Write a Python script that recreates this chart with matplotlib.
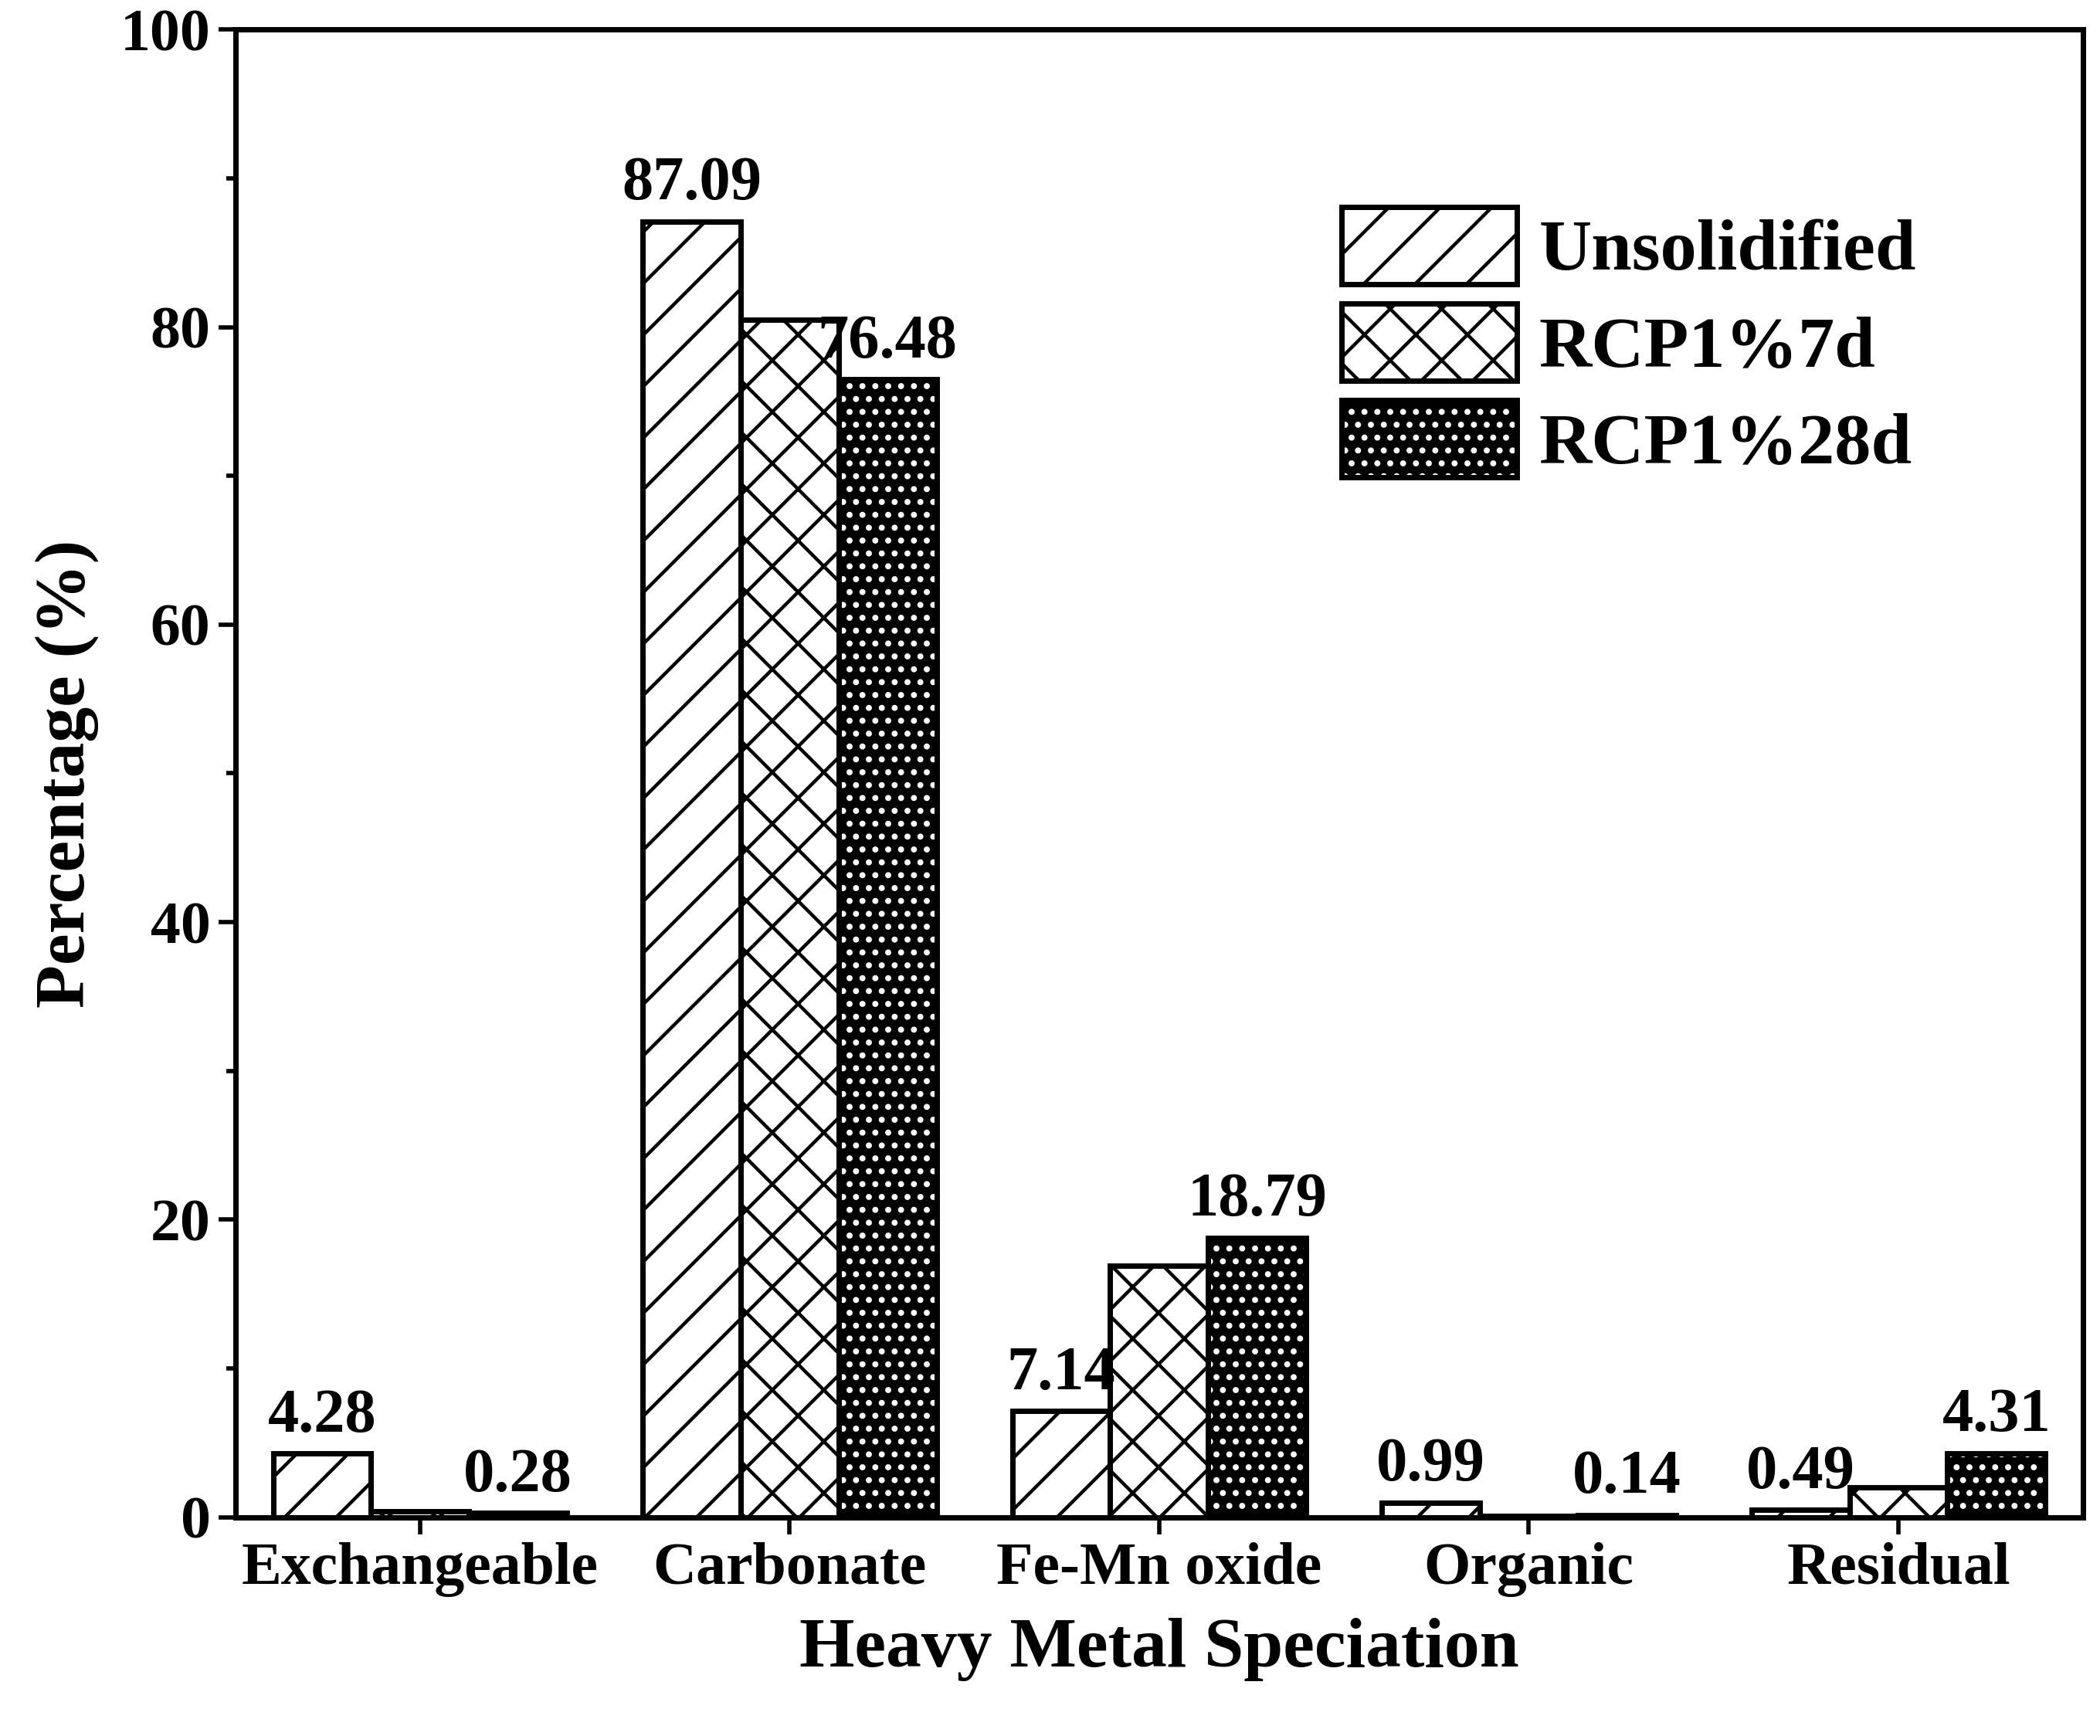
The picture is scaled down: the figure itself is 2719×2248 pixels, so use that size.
import numpy as np
import matplotlib.pyplot as plt
import matplotlib.patches as mpatches
from matplotlib.ticker import MultipleLocator

plt.rcParams['font.family'] = 'Liberation Serif'
plt.rcParams['font.weight'] = 'bold'
plt.rcParams['hatch.linewidth'] = 1.6

categories = ['Exchangeable', 'Carbonate', 'Fe-Mn oxide', 'Organic', 'Residual']
series = ['Unsolidified', 'RCP1%7d', 'RCP1%28d']
unsolidified = [4.28, 87.09, 7.14, 0.99, 0.49]
rcp_7d = [0.40, 80.5, 16.9, 0.10, 2.0]
rcp_28d = [0.28, 76.48, 18.79, 0.14, 4.31]

fig = plt.figure(figsize=(13.595, 11.24), dpi=200)
ax = fig.add_axes([0.112, 0.126, 0.88, 0.857])

x = np.arange(len(categories))
w = 0.265
lw = 2.5

ax.bar(x - w, unsolidified, w, facecolor='white', edgecolor='black', hatch='/', linewidth=lw)
ax.bar(x, rcp_7d, w, facecolor='white', edgecolor='black', hatch='x', linewidth=lw)
ax.bar(x + w, rcp_28d, w, facecolor='black', edgecolor='white', hatch='..', linewidth=0)
ax.bar(x + w, rcp_28d, w, facecolor='none', edgecolor='black', linewidth=lw)

for xi, v in zip(x - w, unsolidified):
    ax.text(xi, v + 0.6, f'{v:.2f}', ha='center', va='bottom', fontsize=29, fontweight='bold')
for xi, v in zip(x + w, rcp_28d):
    ax.text(xi, v + 0.6, f'{v:.2f}', ha='center', va='bottom', fontsize=29, fontweight='bold')

ax.set_xlim(-0.5, 4.5)
ax.set_ylim(0, 100)
ax.set_xticks(x)
ax.set_xticklabels(categories)
ax.yaxis.set_major_locator(MultipleLocator(20))
ax.yaxis.set_minor_locator(MultipleLocator(10))
ax.tick_params(axis='both', which='major', labelsize=28, width=2, length=8, direction='out')
ax.tick_params(axis='y', which='minor', width=2, length=4.5, direction='out')
for s in ax.spines.values():
    s.set_linewidth(2.5)

ax.set_xlabel('Heavy Metal Speciation', fontsize=33, fontweight='bold', labelpad=10)
ax.set_ylabel('Percentage (%)', fontsize=33, fontweight='bold', labelpad=10)

h1 = mpatches.Patch(facecolor='white', edgecolor='black', hatch='/', linewidth=lw)
h2 = mpatches.Patch(facecolor='white', edgecolor='black', hatch='x', linewidth=lw)
h3a = mpatches.Patch(facecolor='black', edgecolor='white', hatch='..', linewidth=0)
h3b = mpatches.Patch(facecolor='none', edgecolor='black', linewidth=lw)
ax.legend([h1, h2, (h3a, h3b)], series, loc='upper right', bbox_to_anchor=(0.945, 0.925),
          frameon=False, fontsize=34, handlelength=2.4, handleheight=1.25,
          handletextpad=0.3, labelspacing=0.25)

fig.savefig('out.png', dpi=200)
